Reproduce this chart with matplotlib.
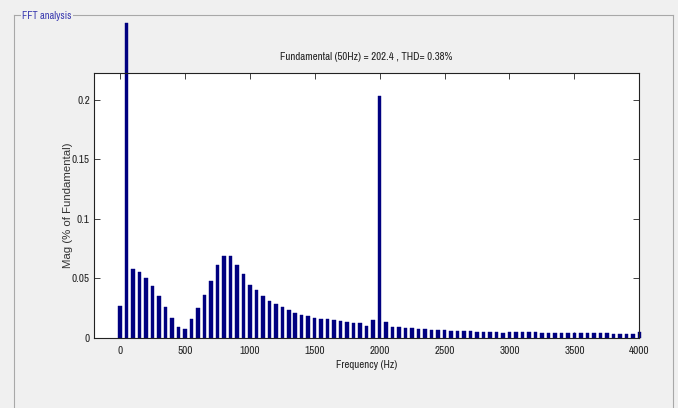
import matplotlib
matplotlib.use("Agg")
import matplotlib.pyplot as plt
from matplotlib.lines import Line2D
import numpy as np

plt.rcParams['font.family'] = ['Archivo Narrow', 'DejaVu Sans']

# ---- data ----
freqs = list(range(0, 4001, 50))
mags = [
    0.0264, 0.265, 0.0579, 0.0551, 0.0500, 0.0433, 0.0348, 0.0253, 0.0163, 0.0087,
    0.0070, 0.0155, 0.0247, 0.0362, 0.0478, 0.0610, 0.0686, 0.0686, 0.0610, 0.0531,
    0.0444, 0.0402, 0.0346, 0.0309, 0.0278, 0.0253, 0.0230, 0.0205, 0.0191, 0.0177,
    0.0166, 0.0157, 0.0152, 0.0146, 0.0138, 0.0132, 0.0124, 0.0121, 0.0101, 0.0148,
    0.2037, 0.0131, 0.0087, 0.0085, 0.0078, 0.0077, 0.0069, 0.0068, 0.0063, 0.0062,
    0.0060, 0.0057, 0.0055, 0.0055, 0.0054, 0.0050, 0.0050, 0.0048, 0.0048, 0.0042,
    0.0046, 0.0044, 0.0044, 0.0043, 0.0043, 0.0041, 0.0040, 0.0040, 0.0039, 0.0039,
    0.0040, 0.0038, 0.0037, 0.0036, 0.0035, 0.0034, 0.0033, 0.0032, 0.0031, 0.0030,
    0.0048,
]
xticks = [0, 500, 1000, 1500, 2000, 2500, 3000, 3500, 4000]
yticks = [0, 0.05, 0.1, 0.15, 0.2]
ytick_labels = ['0', '0.05', '0.1', '0.15', '0.2']
title = 'Fundamental (50Hz) = 202.4 , THD= 0.38%'
panel_title = 'FFT analysis'

W, H = 678, 408
fig = plt.figure(figsize=(W / 100, H / 100), dpi=100, facecolor='#f0f0f0')

def fx(px):
    return px / W
def fy(py):
    return 1 - py / H

border = '#a8a8a8'
fig.add_artist(Line2D([fx(14), fx(14)], [fy(15), fy(410)], color=border, lw=0.8))
fig.add_artist(Line2D([fx(673), fx(673)], [fy(15), fy(410)], color=border, lw=0.8))
fig.add_artist(Line2D([fx(14), fx(673)], [fy(15), fy(15)], color=border, lw=0.8))
fig.text(fx(22), fy(16), panel_title, color='#3a3ab0', fontsize=7.5, va='center', ha='left',
         bbox=dict(facecolor='#f0f0f0', edgecolor='none', pad=1))

ax = fig.add_axes([fx(94), fy(337.5), fx(639.3) - fx(94), fy(72.7) - fy(337.5)])
ax.set_facecolor('white')
bars = ax.bar(freqs, mags, width=27, color='#000080', edgecolor='#000080', linewidth=0.3, zorder=2)
for b in bars:
    b.set_clip_on(False)

ax.set_xlim(-200, 4000)
ax.set_ylim(0, 0.223)
ax.set_xticks(xticks)
ax.set_xticklabels([str(t) for t in xticks])
ax.set_yticks(yticks)
ax.set_yticklabels(ytick_labels)
ax.tick_params(direction='in', length=4, width=0.6, top=True, right=True,
               labelsize=8, colors='#222222')
ax.tick_params(axis='x', pad=6)
ax.tick_params(axis='y', pad=3)
for s in ax.spines.values():
    s.set_linewidth(0.8)
    s.set_color('#222222')
    s.set_zorder(3)

ax.set_title(title, fontsize=7.8, pad=9, color='#222222')
ax.set_xlabel('Frequency (Hz)', fontsize=7.8, labelpad=3, color='#222222')
ax.set_ylabel('Mag (% of Fundamental)', fontsize=8.2, color='#333333',
              family=['Liberation Sans', 'DejaVu Sans'])
ax.yaxis.set_label_coords(-0.038, 0.5)

fig.savefig('out.png', dpi=100, facecolor=fig.get_facecolor())
